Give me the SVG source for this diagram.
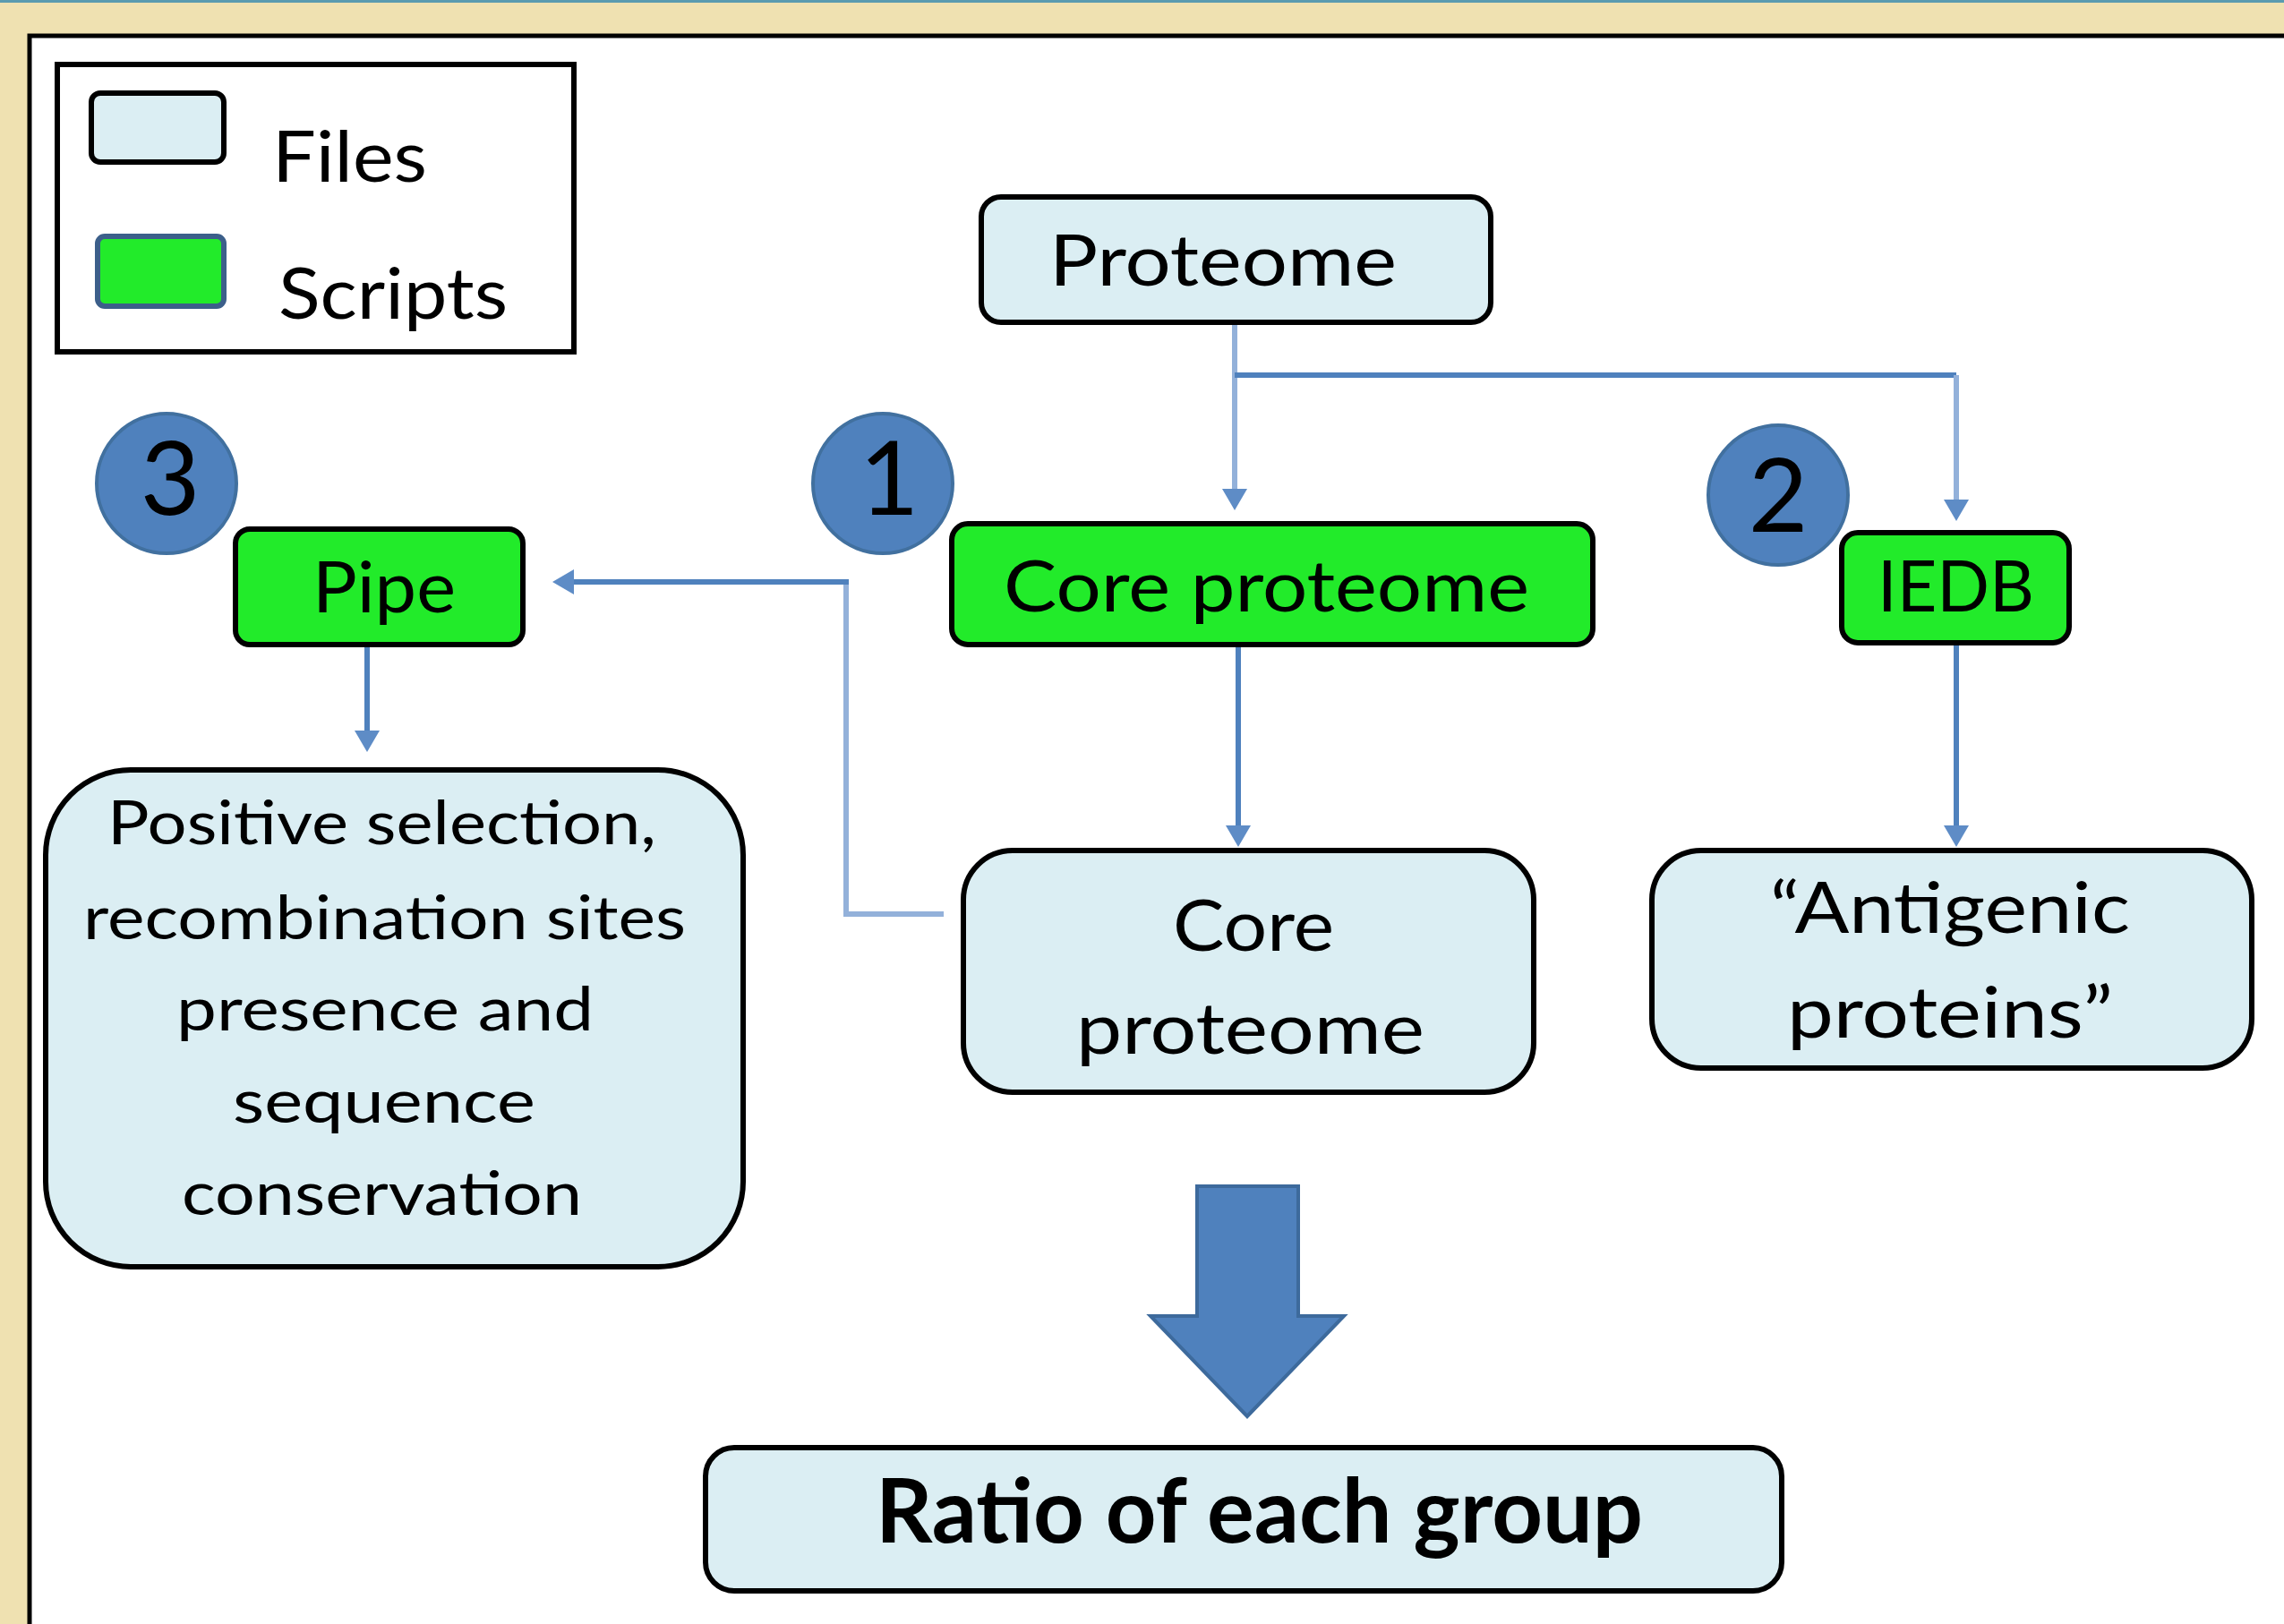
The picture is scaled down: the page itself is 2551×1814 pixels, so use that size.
<svg xmlns="http://www.w3.org/2000/svg" width="2551" height="1814" viewBox="0 0 2551 1814">
  <style>
    .t { font-family: Lato, "Liberation Sans", sans-serif; font-size: 80px; fill: #000; }
    .ts { font-family: Lato, "Liberation Sans", sans-serif; font-size: 68px; fill: #000; }
    .tb { font-family: Lato, "Liberation Sans", sans-serif; font-size: 100px; font-weight: bold; fill: #000; }
    .num { font-family: Lato, "Liberation Sans", sans-serif; font-size: 115px; fill: #000; text-anchor: middle; }
    .file { fill: #DBEEF3; stroke: #000; stroke-width: 6; }
    .script { fill: #22EB2A; stroke: #000; stroke-width: 6; }
    .badge { fill: #4F81BD; stroke: #41709F; stroke-width: 4; }
    .c { fill: none; stroke: #4F81BD; stroke-width: 6; }
    .cp { fill: none; stroke: #93B1DA; stroke-width: 6; }
  </style>
  <defs>
    <marker id="ah" viewBox="0 0 24 28" markerWidth="24" markerHeight="28" markerUnits="userSpaceOnUse" refX="0" refY="14" orient="auto">
      <path d="M0,0 L24,14 L0,28 z" fill="#5E8CC6"/>
    </marker>
  </defs>

  <!-- background frame -->
  <rect x="0" y="0" width="2551" height="1814" fill="#EFE1B1"/>
  <rect x="0" y="0" width="2551" height="3" fill="#5A9BB0"/>
  <rect x="33" y="40" width="2600" height="1900" fill="#FFFFFF" stroke="#000" stroke-width="5"/>

  <!-- legend -->
  <g id="legend">
    <rect x="64" y="72" width="577" height="321" fill="#FFFFFF" stroke="#000" stroke-width="6"/>
    <rect x="102" y="104" width="148" height="77" rx="10" class="file"/>
    <rect x="109" y="264" width="141" height="78" rx="8" fill="#22EB2A" stroke="#3C5F8A" stroke-width="6"/>
    <text class="t" x="304" y="203" textLength="173" lengthAdjust="spacingAndGlyphs">Files</text>
    <text class="t" x="311" y="356" textLength="256" lengthAdjust="spacingAndGlyphs">Scripts</text>
  </g>

  <!-- connectors -->
  <g id="connectors">
    <path class="cp" d="M1379,363 V546" marker-end="url(#ah)"/>
    <path class="c" d="M1379,419 H2185"/>
    <path class="cp" d="M2185,419 V558" marker-end="url(#ah)"/>
    <path class="c" d="M1383,722 V922" marker-end="url(#ah)"/>
    <path class="c" d="M2185,720 V922" marker-end="url(#ah)"/>
    <path class="cp" d="M1054,1021 H945 V650"/>
    <path class="c" d="M948,650 H641" marker-end="url(#ah)"/>
    <path class="c" d="M410,722 V816" marker-end="url(#ah)"/>
  </g>

  <!-- nodes -->
  <g id="proteome">
    <rect x="1096" y="220" width="569" height="140" rx="22" class="file"/>
    <text class="t" x="1172" y="319" textLength="388" lengthAdjust="spacingAndGlyphs">Proteome</text>
  </g>

  <g id="core-script">
    <rect x="1063" y="585" width="716" height="135" rx="18" class="script"/>
    <text class="t" x="1121" y="683" textLength="587" lengthAdjust="spacingAndGlyphs">Core proteome</text>
  </g>

  <g id="iedb">
    <rect x="2057" y="595" width="254" height="123" rx="18" class="script"/>
    <text class="t" x="2097" y="683" textLength="175" lengthAdjust="spacingAndGlyphs">IEDB</text>
  </g>

  <g id="pipe">
    <rect x="263" y="591" width="321" height="129" rx="16" class="script"/>
    <text class="t" x="349" y="684" textLength="160" lengthAdjust="spacingAndGlyphs">Pipe</text>
  </g>

  <g id="core-file">
    <rect x="1076" y="950" width="637" height="270" rx="55" class="file"/>
    <text class="t" x="1310" y="1062" textLength="180" lengthAdjust="spacingAndGlyphs">Core</text>
    <text class="t" x="1202" y="1177" textLength="389" lengthAdjust="spacingAndGlyphs">proteome</text>
  </g>

  <g id="antigenic">
    <rect x="1845" y="950" width="670" height="243" rx="55" class="file"/>
    <text class="t" x="1977" y="1042" textLength="402" lengthAdjust="spacingAndGlyphs">“Antigenic</text>
    <text class="t" x="1996" y="1159" textLength="364" lengthAdjust="spacingAndGlyphs">proteins”</text>
  </g>

  <g id="positive-selection">
    <rect x="51" y="860" width="779" height="555" rx="95" class="file"/>
    <text class="ts" x="120" y="943" textLength="613" lengthAdjust="spacingAndGlyphs">Positive selection,</text>
    <text class="ts" x="93" y="1049" textLength="673" lengthAdjust="spacingAndGlyphs">recombination sites</text>
    <text class="ts" x="197" y="1151" textLength="466" lengthAdjust="spacingAndGlyphs">presence and</text>
    <text class="ts" x="260" y="1254" textLength="338" lengthAdjust="spacingAndGlyphs">sequence</text>
    <text class="ts" x="203" y="1357" textLength="447" lengthAdjust="spacingAndGlyphs">conservation</text>
  </g>

  <g id="ratio">
    <rect x="788" y="1617" width="1202" height="160" rx="32" class="file"/>
    <text class="tb" x="978" y="1723" textLength="857" lengthAdjust="spacingAndGlyphs">Ratio of each group</text>
  </g>

  <g id="big-arrow">
    <polygon points="1337,1325 1450,1325 1450,1470 1501,1470 1393,1582 1285,1470 1337,1470" fill="#4F81BD" stroke="#3D6A9C" stroke-width="4"/>
  </g>

  <g id="badge-1">
    <circle cx="986" cy="540" r="78" class="badge"/>
    <text class="num" x="993" y="575">1</text>
  </g>
  <g id="badge-2">
    <circle cx="1986" cy="553" r="78" class="badge"/>
    <text class="num" x="1986" y="594">2</text>
  </g>
  <g id="badge-3">
    <circle cx="186" cy="540" r="78" class="badge"/>
    <text class="num" x="190" y="575">3</text>
  </g>
</svg>
